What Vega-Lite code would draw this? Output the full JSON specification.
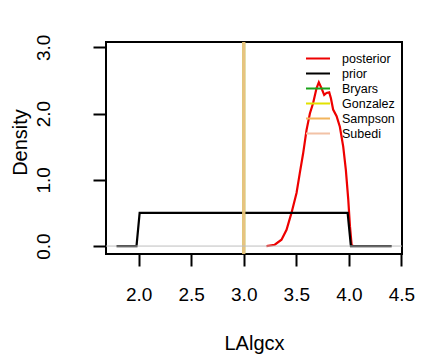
{
  "$schema": "https://vega.github.io/schema/vega-lite/v6.json",
  "width": 296,
  "height": 212,
  "autosize": "none",
  "padding": {"left": 106, "top": 42, "right": 21, "bottom": 102},
  "config": {
    "font": "Liberation Sans",
    "view": {"stroke": "black", "strokeWidth": 2},
    "axis": {"grid": false, "domain": false, "tickColor": "black", "tickWidth": 2, "labelColor": "black", "labelFontSize": 19, "titleFontSize": 20, "titleFontWeight": "normal", "titleColor": "black", "labelFlush": false, "labelOverlap": false}
  },
  "datasets": {
    "curves": [
      {"series": "posterior", "x": 3.216, "y": 0.0},
      {"series": "posterior", "x": 3.295, "y": 0.02},
      {"series": "posterior", "x": 3.359, "y": 0.095},
      {"series": "posterior", "x": 3.407, "y": 0.245},
      {"series": "posterior", "x": 3.454, "y": 0.5},
      {"series": "posterior", "x": 3.502, "y": 0.8},
      {"series": "posterior", "x": 3.533, "y": 1.1},
      {"series": "posterior", "x": 3.565, "y": 1.4},
      {"series": "posterior", "x": 3.597, "y": 1.75},
      {"series": "posterior", "x": 3.629, "y": 2.0},
      {"series": "posterior", "x": 3.66, "y": 2.16},
      {"series": "posterior", "x": 3.692, "y": 2.38},
      {"series": "posterior", "x": 3.714, "y": 2.47},
      {"series": "posterior", "x": 3.74, "y": 2.38},
      {"series": "posterior", "x": 3.765, "y": 2.28},
      {"series": "posterior", "x": 3.787, "y": 2.31},
      {"series": "posterior", "x": 3.813, "y": 2.32},
      {"series": "posterior", "x": 3.829, "y": 2.23},
      {"series": "posterior", "x": 3.85, "y": 2.06},
      {"series": "posterior", "x": 3.883, "y": 1.96},
      {"series": "posterior", "x": 3.914, "y": 1.8},
      {"series": "posterior", "x": 3.946, "y": 1.5},
      {"series": "posterior", "x": 3.971, "y": 1.15},
      {"series": "posterior", "x": 3.994, "y": 0.7},
      {"series": "posterior", "x": 4.01, "y": 0.3},
      {"series": "posterior", "x": 4.026, "y": 0.02},
      {"series": "posterior", "x": 4.04, "y": 0.0},
      {"series": "prior", "x": 1.79, "y": 0.0},
      {"series": "prior", "x": 1.98, "y": 0.0},
      {"series": "prior", "x": 2.01, "y": 0.5},
      {"series": "prior", "x": 3.988, "y": 0.5},
      {"series": "prior", "x": 4.019, "y": 0.0},
      {"series": "prior", "x": 4.407, "y": 0.0}
    ],
    "priors": [
      {"series": "Bryars", "x": 3.0},
      {"series": "Gonzalez", "x": 3.0},
      {"series": "Sampson", "x": 3.0},
      {"series": "Subedi", "x": 3.0}
    ],
    "baseline": [{"y": 0}]
  },
  "layer": [
    {
      "data": {"name": "curves"},
      "mark": {"type": "line", "strokeWidth": 2.2, "clip": true},
      "encoding": {
        "x": {"field": "x", "type": "quantitative", "scale": {"domain": [1.69, 4.505], "nice": false, "zero": false},
          "axis": {"values": [2, 2.5, 3, 3.5, 4, 4.5], "format": ".1f", "tickSize": 12, "labelPadding": 19, "labelBaseline": "top", "title": "LAlgcx", "titleY": 95, "titleBaseline": "alphabetic"}},
        "y": {"field": "y", "type": "quantitative", "scale": {"domain": [-0.12, 3.08], "nice": false, "zero": false},
          "axis": {"values": [0, 0.5, 1, 1.5, 2, 2.5, 3], "labelExpr": "datum.value % 1 == 0 ? format(datum.value, '.1f') : ''", "tickSize": 13, "labelAngle": -90, "labelAlign": "center", "labelBaseline": "bottom", "labelPadding": 40, "title": "Density", "titleAngle": -90, "titleX": -80, "titleY": 100, "titleBaseline": "alphabetic"}},
        "color": {"field": "series", "type": "nominal",
          "scale": {"domain": ["posterior", "prior", "Bryars", "Gonzalez", "Sampson", "Subedi"], "range": ["#EE0000", "#000000", "#1AA31A", "#E2E200", "#F2B45C", "#F2C2A6"]},
          "legend": {"orient": "none", "legendX": 199, "legendY": 9, "title": null, "symbolType": "stroke", "symbolSize": 576, "symbolStrokeWidth": 2, "clipHeight": 15, "labelFontSize": 12.5, "labelColor": "black", "labelOffset": 11, "rowPadding": 0, "padding": 0}}
      }
    },
    {
      "data": {"name": "priors"},
      "mark": {"type": "rule", "strokeWidth": 3, "strokeOpacity": 0.6},
      "encoding": {
        "x": {"field": "x", "type": "quantitative"},
        "color": {"field": "series", "type": "nominal"}
      }
    },
    {
      "data": {"name": "baseline"},
      "mark": {"type": "rule", "strokeWidth": 1, "color": "#BEBEBE"},
      "encoding": {"y": {"field": "y", "type": "quantitative"}}
    }
  ]
}
